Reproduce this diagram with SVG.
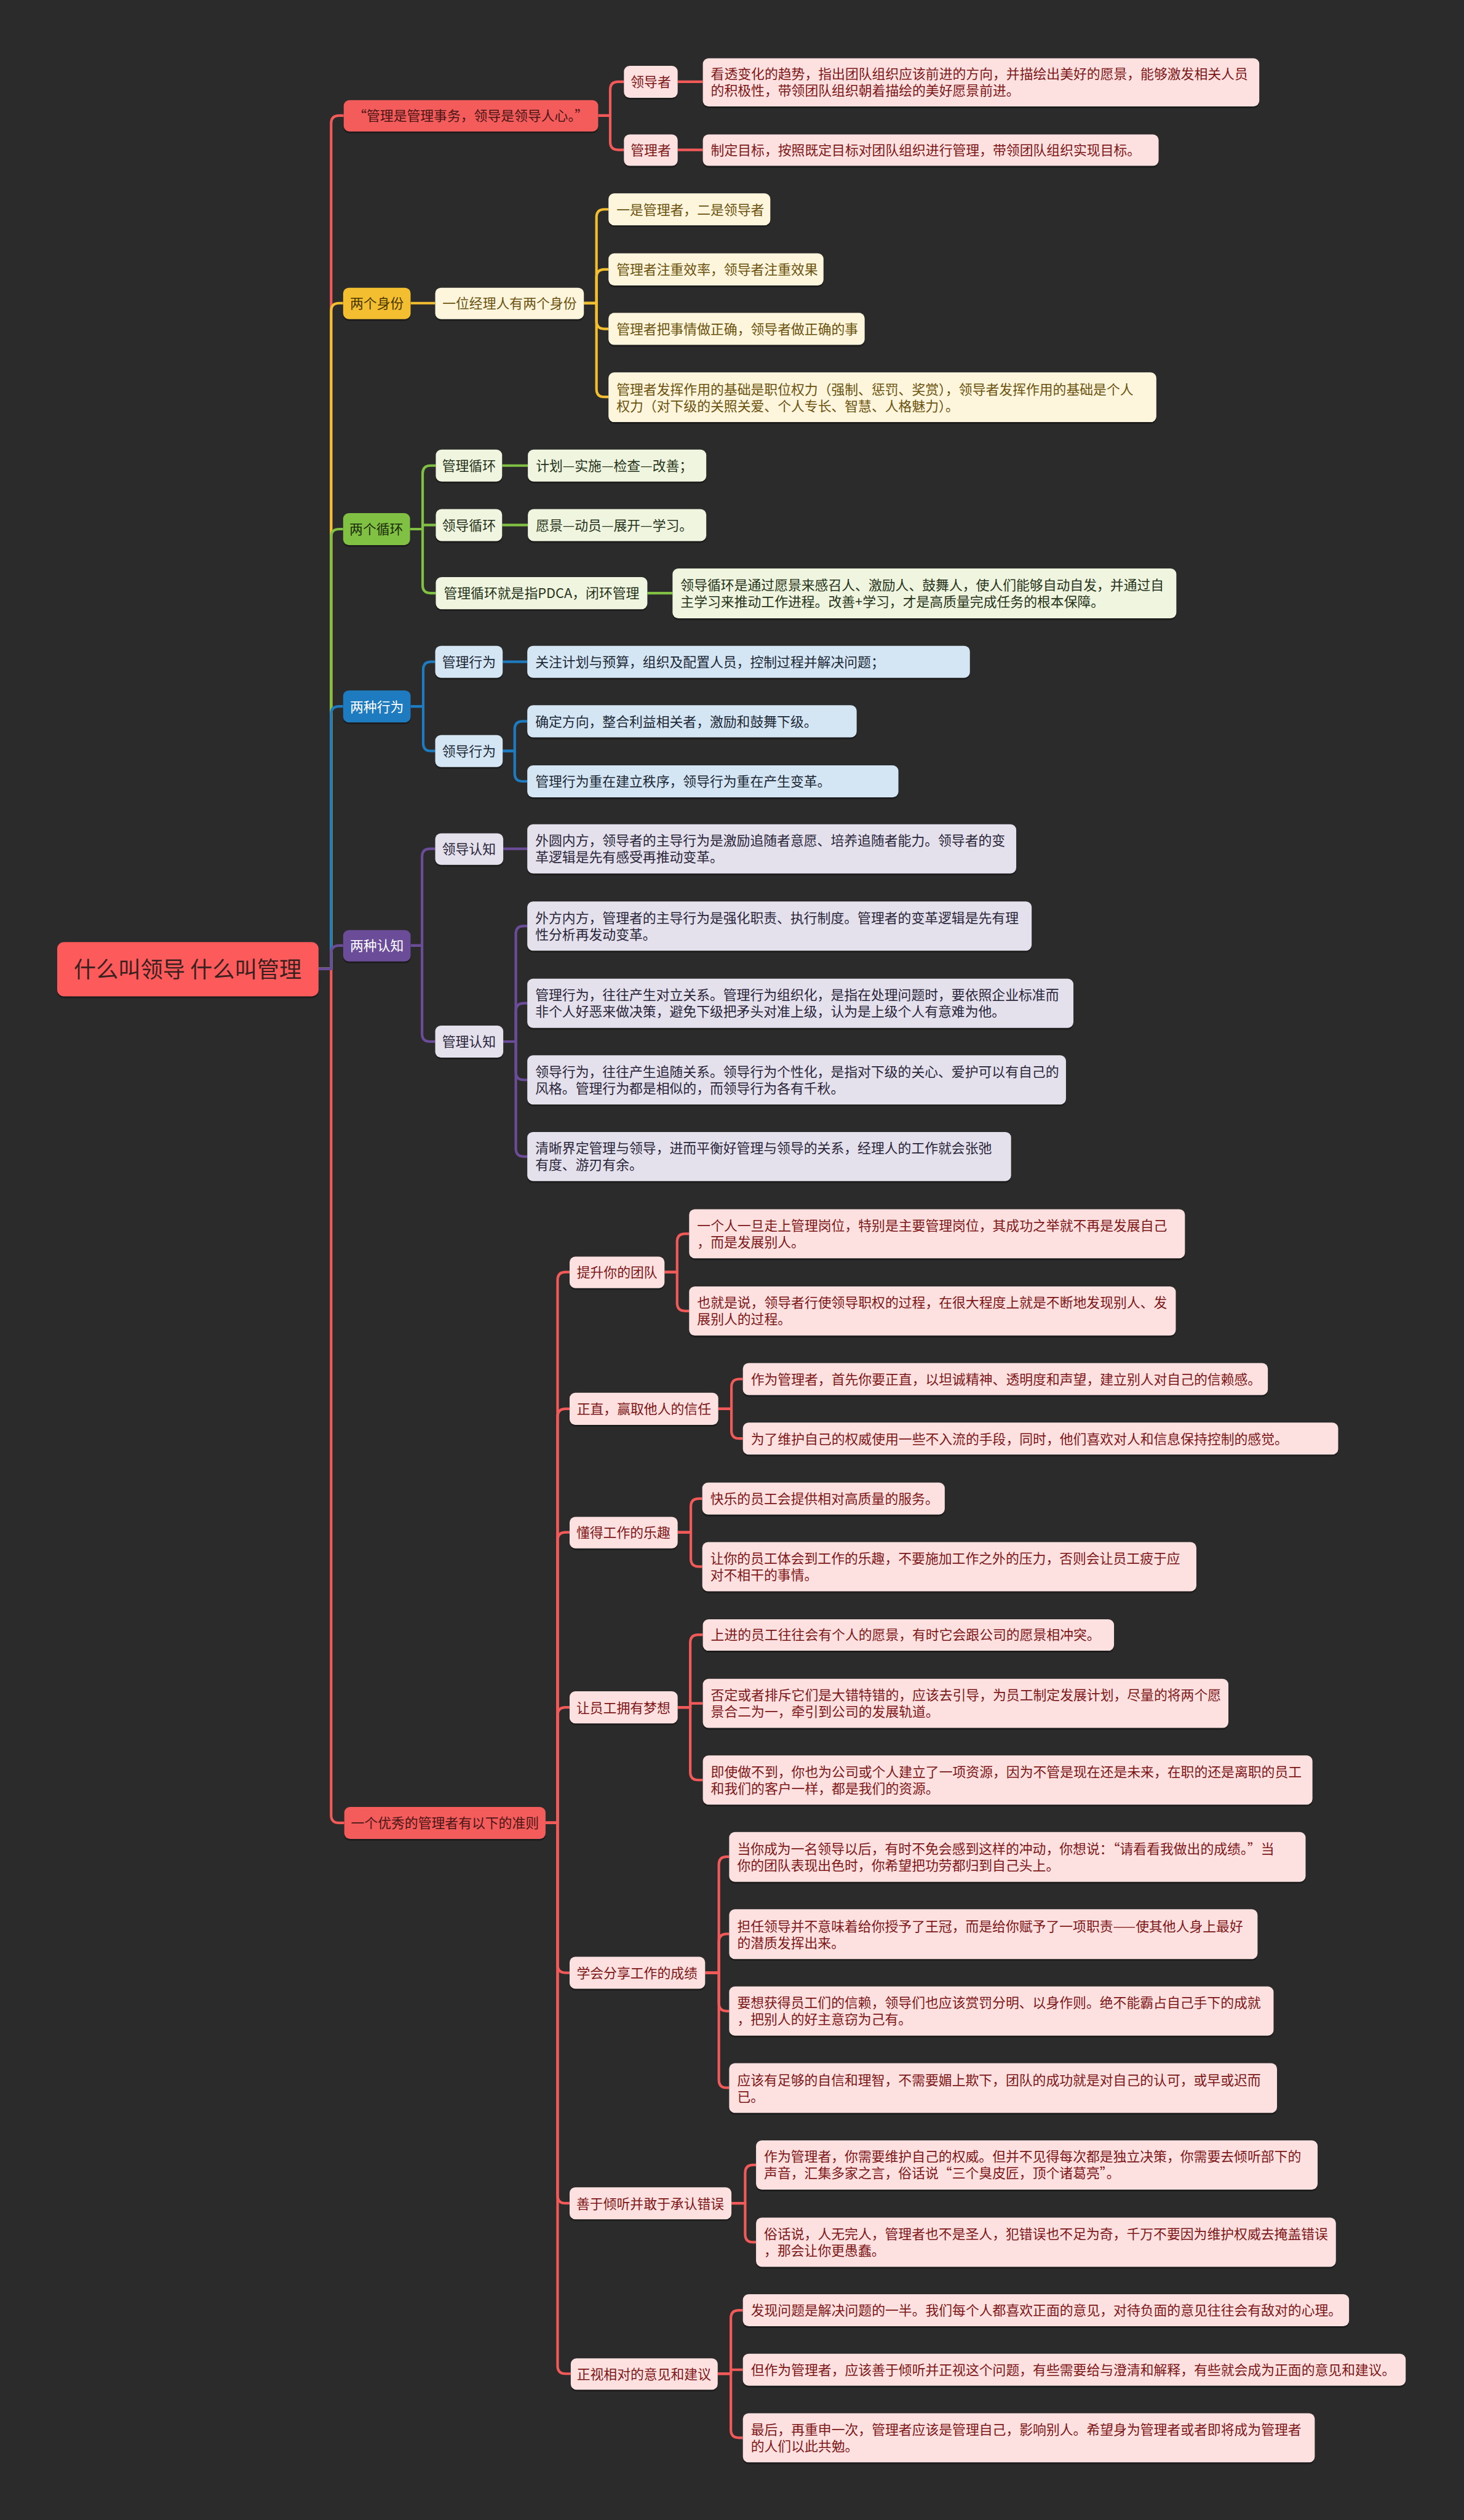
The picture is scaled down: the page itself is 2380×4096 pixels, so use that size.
<svg xmlns="http://www.w3.org/2000/svg" width="2380" height="4096" viewBox="0 0 2380 4096">
<style>
text{font-family:"Noto Sans CJK SC","Noto Sans",sans-serif;font-size:23.5px}
.m{text-anchor:middle}
.sh{fill:#121212;opacity:.6}
.c{fill:none;stroke-width:4.5;stroke-linejoin:round}
.cr{stroke:#f25a5a}.cy{stroke:#f3bf30}.cg{stroke:#80c043}.cb{stroke:#1f7bbf}.cp{stroke:#6b4c99}
.R{fill:#f45b5b}.RL{fill:#fde1e1}
.Y{fill:#f3bf30}.YL{fill:#fdf6dc}
.G{fill:#80c043}.GL{fill:#eff5de}
.B{fill:#1f7bbf}.BL{fill:#d4e6f3}
.P{fill:#6b4c99}.PL{fill:#e4e0ec}
.tR{fill:#4a1616}.tRL{fill:#7d1717}
.tY{fill:#4a3600}.tYL{fill:#6b520f}
.tG{fill:#1c2e0c}.tGL{fill:#26331a}
.tW{fill:#ffffff}.tBL{fill:#1c2836}.tPL{fill:#29263a}
</style>
<rect width="2380" height="4096" fill="#2b2b2b"/>
<g transform="scale(0.9297)">
<g id="connectors">
<path class="c cr" d="M557,1694 H579 V3173 Q579,3187 593,3187 H602"/>
<path class="c cr" d="M557,1694 H579 V216 Q579,202 593,202 H601"/>
<path class="c cy" d="M557,1694 H579 V544 Q579,530 593,530 H600"/>
<path class="c cg" d="M557,1694 H579 V939 Q579,925 593,925 H600"/>
<path class="c cb" d="M557,1694 H579 V1249 Q579,1235 593,1235 H600"/>
<path class="c cp" d="M557,1694 H579 V1667 Q579,1653 593,1653 H600"/>
<path class="c cr" d="M1046,202 H1067 V157 Q1067,143 1081,143 H1091"/>
<path class="c cr" d="M1046,202 H1067 V248 Q1067,262 1081,262 H1091"/>
<path class="c cr" d="M1185,143 H1229"/>
<path class="c cr" d="M1185,262 H1229"/>
<path class="c cy" d="M718,530 H761"/>
<path class="c cy" d="M1021,530 H1043 V380 Q1043,366 1057,366 H1064"/>
<path class="c cy" d="M1021,530 H1043 V485 Q1043,471 1057,471 H1064"/>
<path class="c cy" d="M1021,530 H1043 V561 Q1043,575 1057,575 H1064"/>
<path class="c cy" d="M1021,530 H1043 V680 Q1043,694 1057,694 H1064"/>
<path class="c cg" d="M717,925 H739 V828 Q739,814 753,814 H762"/>
<path class="c cg" d="M717,925 H739 V918 H762"/>
<path class="c cg" d="M717,925 H739 V1023 Q739,1037 753,1037 H762"/>
<path class="c cg" d="M878,814 H923"/>
<path class="c cg" d="M878,918 H923"/>
<path class="c cg" d="M1132,1037 H1176"/>
<path class="c cb" d="M718,1235 H740 V1171 Q740,1157 754,1157 H761"/>
<path class="c cb" d="M718,1235 H740 V1299 Q740,1313 754,1313 H761"/>
<path class="c cb" d="M879,1157 H922"/>
<path class="c cb" d="M879,1313 H900 V1275 Q900,1261 914,1261 H922"/>
<path class="c cb" d="M879,1313 H900 V1352 Q900,1366 914,1366 H922"/>
<path class="c cp" d="M718,1653 H738 V1498 Q738,1484 752,1484 H761"/>
<path class="c cp" d="M718,1653 H738 V1807 Q738,1821 752,1821 H761"/>
<path class="c cp" d="M880,1484 H922"/>
<path class="c cp" d="M880,1821 H902 V1633 Q902,1619 916,1619 H922"/>
<path class="c cp" d="M880,1821 H902 V1768 Q902,1754 916,1754 H922"/>
<path class="c cp" d="M880,1821 H902 V1874 Q902,1888 916,1888 H922"/>
<path class="c cp" d="M880,1821 H902 V2008 Q902,2022 916,2022 H922"/>
<path class="c cr" d="M954,3187 H975 V2238 Q975,2224 989,2224 H996"/>
<path class="c cr" d="M954,3187 H975 V2477 Q975,2463 989,2463 H996"/>
<path class="c cr" d="M954,3187 H975 V2693 Q975,2679 989,2679 H996"/>
<path class="c cr" d="M954,3187 H975 V2999 Q975,2985 989,2985 H996"/>
<path class="c cr" d="M954,3187 H975 V3435 Q975,3449 989,3449 H996"/>
<path class="c cr" d="M954,3187 H975 V3838 Q975,3852 989,3852 H996"/>
<path class="c cr" d="M954,3187 H975 V4136 Q975,4150 989,4150 H998"/>
<path class="c cr" d="M1162,2224 H1184 V2171 Q1184,2157 1198,2157 H1205"/>
<path class="c cr" d="M1162,2224 H1184 V2278 Q1184,2292 1198,2292 H1205"/>
<path class="c cr" d="M1256,2463 H1279 V2425 Q1279,2411 1293,2411 H1299"/>
<path class="c cr" d="M1256,2463 H1279 V2501 Q1279,2515 1293,2515 H1299"/>
<path class="c cr" d="M1185,2679 H1208 V2634 Q1208,2620 1222,2620 H1228"/>
<path class="c cr" d="M1185,2679 H1208 V2725 Q1208,2739 1222,2739 H1228"/>
<path class="c cr" d="M1185,2985 H1207 V2872 Q1207,2858 1221,2858 H1229"/>
<path class="c cr" d="M1185,2985 H1207 V2978 H1229"/>
<path class="c cr" d="M1185,2985 H1207 V3098 Q1207,3112 1221,3112 H1229"/>
<path class="c cr" d="M1233,3449 H1257 V3260 Q1257,3246 1271,3246 H1275"/>
<path class="c cr" d="M1233,3449 H1257 V3395 Q1257,3381 1271,3381 H1275"/>
<path class="c cr" d="M1233,3449 H1257 V3502 Q1257,3516 1271,3516 H1275"/>
<path class="c cr" d="M1233,3449 H1257 V3636 Q1257,3650 1271,3650 H1275"/>
<path class="c cr" d="M1279,3852 H1303 V3799 Q1303,3785 1317,3785 H1322"/>
<path class="c cr" d="M1279,3852 H1303 V3906 Q1303,3920 1317,3920 H1322"/>
<path class="c cr" d="M1255,4150 H1278 V4053 Q1278,4039 1292,4039 H1299"/>
<path class="c cr" d="M1255,4150 H1278 V4143 H1299"/>
<path class="c cr" d="M1255,4150 H1278 V4248 Q1278,4262 1292,4262 H1299"/>
</g>

<g id="root"><rect class="sh" x="100" y="1650" width="457" height="95" rx="12"/><rect x="100" y="1647" width="457" height="95" rx="12" fill="#fd5b5b"/><text class="m" x="328" y="1709" style="font-size:39px" fill="#3b2020">什么叫领导 什么叫管理</text></g>

<!-- Branch 1 -->
<g id="b1"><rect class="sh" x="601" y="178" width="445" height="55" rx="10"/><rect class="R" x="601" y="175" width="445" height="55" rx="10"/><text class="m tR" x="823" y="211">“管理是管理事务，领导是领导人心。”</text></g>
<g id="b1a"><rect class="sh" x="1091" y="118" width="94" height="56" rx="10"/><rect class="RL" x="1091" y="115" width="94" height="56" rx="10"/><text class="m tRL" x="1138" y="152">领导者</text></g>
<g id="b1a1"><rect class="sh" x="1229" y="105" width="973" height="84" rx="10"/><rect class="RL" x="1229" y="102" width="973" height="84" rx="10"/><text class="tRL" x="1243" y="138">看透变化的趋势，指出团队组织应该前进的方向，并描绘出美好的愿景，能够激发相关人员</text><text class="tRL" x="1243" y="167">的积极性，带领团队组织朝着描绘的美好愿景前进。</text></g>
<g id="b1b"><rect class="sh" x="1091" y="238" width="94" height="55" rx="10"/><rect class="RL" x="1091" y="235" width="94" height="55" rx="10"/><text class="m tRL" x="1138" y="271">管理者</text></g>
<g id="b1b1"><rect class="sh" x="1229" y="238" width="797" height="55" rx="10"/><rect class="RL" x="1229" y="235" width="797" height="55" rx="10"/><text class="tRL" x="1243" y="271">制定目标，按照既定目标对团队组织进行管理，带领团队组织实现目标。</text></g>

<!-- Branch 2 -->
<g id="b2"><rect class="sh" x="600" y="506" width="118" height="55" rx="10"/><rect class="Y" x="600" y="503" width="118" height="55" rx="10"/><text class="m tY" x="659" y="539">两个身份</text></g>
<g id="b2a"><rect class="sh" x="761" y="506" width="260" height="55" rx="10"/><rect class="YL" x="761" y="503" width="260" height="55" rx="10"/><text class="m tYL" x="891" y="539">一位经理人有两个身份</text></g>
<g id="b2a1"><rect class="sh" x="1064" y="341" width="283" height="56" rx="10"/><rect class="YL" x="1064" y="338" width="283" height="56" rx="10"/><text class="tYL" x="1078" y="375">一是管理者，二是领导者</text></g>
<g id="b2a2"><rect class="sh" x="1064" y="446" width="376" height="56" rx="10"/><rect class="YL" x="1064" y="443" width="376" height="56" rx="10"/><text class="tYL" x="1078" y="480">管理者注重效率，领导者注重效果</text></g>
<g id="b2a3"><rect class="sh" x="1064" y="550" width="448" height="56" rx="10"/><rect class="YL" x="1064" y="547" width="448" height="56" rx="10"/><text class="tYL" x="1078" y="584">管理者把事情做正确，领导者做正确的事</text></g>
<g id="b2a4"><rect class="sh" x="1064" y="654" width="958" height="87" rx="10"/><rect class="YL" x="1064" y="651" width="958" height="87" rx="10"/><text class="tYL" x="1078" y="689">管理者发挥作用的基础是职位权力（强制、惩罚、奖赏），领导者发挥作用的基础是个人</text><text class="tYL" x="1078" y="718">权力（对下级的关照关爱、个人专长、智慧、人格魅力）。</text></g>

<!-- Branch 3 -->
<g id="b3"><rect class="sh" x="600" y="900" width="117" height="56" rx="10"/><rect class="G" x="600" y="897" width="117" height="56" rx="10"/><text class="m tG" x="658" y="934">两个循环</text></g>
<g id="b3a"><rect class="sh" x="762" y="789" width="116" height="56" rx="10"/><rect class="GL" x="762" y="786" width="116" height="56" rx="10"/><text class="m tGL" x="820" y="823">管理循环</text></g>
<g id="b3a1"><rect class="sh" x="923" y="789" width="312" height="56" rx="10"/><rect class="GL" x="923" y="786" width="312" height="56" rx="10"/><text class="tGL" x="937" y="823">计划—实施—检查—改善；</text></g>
<g id="b3b"><rect class="sh" x="762" y="893" width="116" height="56" rx="10"/><rect class="GL" x="762" y="890" width="116" height="56" rx="10"/><text class="m tGL" x="820" y="927">领导循环</text></g>
<g id="b3b1"><rect class="sh" x="923" y="893" width="312" height="56" rx="10"/><rect class="GL" x="923" y="890" width="312" height="56" rx="10"/><text class="tGL" x="937" y="927">愿景—动员—展开—学习。</text></g>
<g id="b3c"><rect class="sh" x="762" y="1012" width="370" height="56" rx="10"/><rect class="GL" x="762" y="1009" width="370" height="56" rx="10"/><text class="m tGL" x="947" y="1046">管理循环就是指PDCA，闭环管理</text></g>
<g id="b3c1"><rect class="sh" x="1176" y="997" width="881" height="87" rx="10"/><rect class="GL" x="1176" y="994" width="881" height="87" rx="10"/><text class="tGL" x="1190" y="1032">领导循环是通过愿景来感召人、激励人、鼓舞人，使人们能够自动自发，并通过自</text><text class="tGL" x="1190" y="1061">主学习来推动工作进程。改善+学习，才是高质量完成任务的根本保障。</text></g>

<!-- Branch 4 -->
<g id="b4"><rect class="sh" x="600" y="1210" width="118" height="56" rx="10"/><rect class="B" x="600" y="1207" width="118" height="56" rx="10"/><text class="m tW" x="659" y="1244">两种行为</text></g>
<g id="b4a"><rect class="sh" x="761" y="1132" width="118" height="56" rx="10"/><rect class="BL" x="761" y="1129" width="118" height="56" rx="10"/><text class="m tBL" x="820" y="1166">管理行为</text></g>
<g id="b4a1"><rect class="sh" x="922" y="1132" width="774" height="56" rx="10"/><rect class="BL" x="922" y="1129" width="774" height="56" rx="10"/><text class="tBL" x="936" y="1166">关注计划与预算，组织及配置人员，控制过程并解决问题；</text></g>
<g id="b4b"><rect class="sh" x="761" y="1288" width="118" height="56" rx="10"/><rect class="BL" x="761" y="1285" width="118" height="56" rx="10"/><text class="m tBL" x="820" y="1322">领导行为</text></g>
<g id="b4b1"><rect class="sh" x="922" y="1236" width="576" height="56" rx="10"/><rect class="BL" x="922" y="1233" width="576" height="56" rx="10"/><text class="tBL" x="936" y="1270">确定方向，整合利益相关者，激励和鼓舞下级。</text></g>
<g id="b4b2"><rect class="sh" x="922" y="1341" width="649" height="56" rx="10"/><rect class="BL" x="922" y="1338" width="649" height="56" rx="10"/><text class="tBL" x="936" y="1375">管理行为重在建立秩序，领导行为重在产生变革。</text></g>

<!-- Branch 5 -->
<g id="b5"><rect class="sh" x="600" y="1629" width="118" height="55" rx="10"/><rect class="P" x="600" y="1626" width="118" height="55" rx="10"/><text class="m tW" x="659" y="1662">两种认知</text></g>
<g id="b5a"><rect class="sh" x="761" y="1460" width="119" height="55" rx="10"/><rect class="PL" x="761" y="1457" width="119" height="55" rx="10"/><text class="m tPL" x="820" y="1493">领导认知</text></g>
<g id="b5a1"><rect class="sh" x="922" y="1444" width="855" height="86" rx="10"/><rect class="PL" x="922" y="1441" width="855" height="86" rx="10"/><text class="tPL" x="936" y="1478">外圆内方，领导者的主导行为是激励追随者意愿、培养追随者能力。领导者的变</text><text class="tPL" x="936" y="1507">革逻辑是先有感受再推动变革。</text></g>
<g id="b5b"><rect class="sh" x="761" y="1796" width="119" height="56" rx="10"/><rect class="PL" x="761" y="1793" width="119" height="56" rx="10"/><text class="m tPL" x="820" y="1830">管理认知</text></g>
<g id="b5b1"><rect class="sh" x="922" y="1579" width="882" height="86" rx="10"/><rect class="PL" x="922" y="1576" width="882" height="86" rx="10"/><text class="tPL" x="936" y="1613">外方内方，管理者的主导行为是强化职责、执行制度。管理者的变革逻辑是先有理</text><text class="tPL" x="936" y="1642">性分析再发动变革。</text></g>
<g id="b5b2"><rect class="sh" x="922" y="1714" width="955" height="86" rx="10"/><rect class="PL" x="922" y="1711" width="955" height="86" rx="10"/><text class="tPL" x="936" y="1748">管理行为，往往产生对立关系。管理行为组织化，是指在处理问题时，要依照企业标准而</text><text class="tPL" x="936" y="1777">非个人好恶来做决策，避免下级把矛头对准上级，认为是上级个人有意难为他。</text></g>
<g id="b5b3"><rect class="sh" x="922" y="1848" width="942" height="86" rx="10"/><rect class="PL" x="922" y="1845" width="942" height="86" rx="10"/><text class="tPL" x="936" y="1882">领导行为，往往产生追随关系。领导行为个性化，是指对下级的关心、爱护可以有自己的</text><text class="tPL" x="936" y="1911">风格。管理行为都是相似的，而领导行为各有千秋。</text></g>
<g id="b5b4"><rect class="sh" x="922" y="1982" width="846" height="86" rx="10"/><rect class="PL" x="922" y="1979" width="846" height="86" rx="10"/><text class="tPL" x="936" y="2016">清晰界定管理与领导，进而平衡好管理与领导的关系，经理人的工作就会张弛</text><text class="tPL" x="936" y="2045">有度、游刃有余。</text></g>

<!-- Branch 6 -->
<g id="b6"><rect class="sh" x="602" y="3162" width="352" height="56" rx="10"/><rect class="R" x="602" y="3159" width="352" height="56" rx="10"/><text class="m tR" x="778" y="3196">一个优秀的管理者有以下的准则</text></g>

<g id="b6a"><rect class="sh" x="996" y="2200" width="166" height="55" rx="10"/><rect class="RL" x="996" y="2197" width="166" height="55" rx="10"/><text class="m tRL" x="1079" y="2233">提升你的团队</text></g>
<g id="b6a1"><rect class="sh" x="1205" y="2117" width="867" height="86" rx="10"/><rect class="RL" x="1205" y="2114" width="867" height="86" rx="10"/><text class="tRL" x="1219" y="2151">一个人一旦走上管理岗位，特别是主要管理岗位，其成功之举就不再是发展自己</text><text class="tRL" x="1219" y="2180">，而是发展别人。</text></g>
<g id="b6a2"><rect class="sh" x="1205" y="2252" width="851" height="86" rx="10"/><rect class="RL" x="1205" y="2249" width="851" height="86" rx="10"/><text class="tRL" x="1219" y="2286">也就是说，领导者行使领导职权的过程，在很大程度上就是不断地发现别人、发</text><text class="tRL" x="1219" y="2315">展别人的过程。</text></g>

<g id="b6b"><rect class="sh" x="996" y="2438" width="260" height="56" rx="10"/><rect class="RL" x="996" y="2435" width="260" height="56" rx="10"/><text class="m tRL" x="1126" y="2472">正直，赢取他人的信任</text></g>
<g id="b6b1"><rect class="sh" x="1299" y="2386" width="918" height="56" rx="10"/><rect class="RL" x="1299" y="2383" width="918" height="56" rx="10"/><text class="tRL" x="1313" y="2420">作为管理者，首先你要正直，以坦诚精神、透明度和声望，建立别人对自己的信赖感。</text></g>
<g id="b6b2"><rect class="sh" x="1299" y="2490" width="1041" height="56" rx="10"/><rect class="RL" x="1299" y="2487" width="1041" height="56" rx="10"/><text class="tRL" x="1313" y="2524">为了维护自己的权威使用一些不入流的手段，同时，他们喜欢对人和信息保持控制的感觉。</text></g>

<g id="b6c"><rect class="sh" x="996" y="2655" width="189" height="55" rx="10"/><rect class="RL" x="996" y="2652" width="189" height="55" rx="10"/><text class="m tRL" x="1090" y="2688">懂得工作的乐趣</text></g>
<g id="b6c1"><rect class="sh" x="1228" y="2595" width="424" height="56" rx="10"/><rect class="RL" x="1228" y="2592" width="424" height="56" rx="10"/><text class="tRL" x="1242" y="2629">快乐的员工会提供相对高质量的服务。</text></g>
<g id="b6c2"><rect class="sh" x="1228" y="2699" width="864" height="86" rx="10"/><rect class="RL" x="1228" y="2696" width="864" height="86" rx="10"/><text class="tRL" x="1242" y="2733">让你的员工体会到工作的乐趣，不要施加工作之外的压力，否则会让员工疲于应</text><text class="tRL" x="1242" y="2762">对不相干的事情。</text></g>

<g id="b6d"><rect class="sh" x="996" y="2960" width="189" height="56" rx="10"/><rect class="RL" x="996" y="2957" width="189" height="56" rx="10"/><text class="m tRL" x="1090" y="2994">让员工拥有梦想</text></g>
<g id="b6d1"><rect class="sh" x="1229" y="2834" width="719" height="55" rx="10"/><rect class="RL" x="1229" y="2831" width="719" height="55" rx="10"/><text class="tRL" x="1243" y="2867">上进的员工往往会有个人的愿景，有时它会跟公司的愿景相冲突。</text></g>
<g id="b6d2"><rect class="sh" x="1229" y="2938" width="919" height="86" rx="10"/><rect class="RL" x="1229" y="2935" width="919" height="86" rx="10"/><text class="tRL" x="1243" y="2972">否定或者排斥它们是大错特错的，应该去引导，为员工制定发展计划，尽量的将两个愿</text><text class="tRL" x="1243" y="3001">景合二为一，牵引到公司的发展轨道。</text></g>
<g id="b6d3"><rect class="sh" x="1229" y="3072" width="1066" height="86" rx="10"/><rect class="RL" x="1229" y="3069" width="1066" height="86" rx="10"/><text class="tRL" x="1243" y="3106">即使做不到，你也为公司或个人建立了一项资源，因为不管是现在还是未来，在职的还是离职的员工</text><text class="tRL" x="1243" y="3135">和我们的客户一样，都是我们的资源。</text></g>

<g id="b6e"><rect class="sh" x="996" y="3424" width="237" height="56" rx="10"/><rect class="RL" x="996" y="3421" width="237" height="56" rx="10"/><text class="m tRL" x="1114" y="3458">学会分享工作的成绩</text></g>
<g id="b6e1"><rect class="sh" x="1275" y="3206" width="1008" height="87" rx="10"/><rect class="RL" x="1275" y="3203" width="1008" height="87" rx="10"/><text class="tRL" x="1289" y="3241">当你成为一名领导以后，有时不免会感到这样的冲动，你想说：“请看看我做出的成绩。”当</text><text class="tRL" x="1289" y="3270">你的团队表现出色时，你希望把功劳都归到自己头上。</text></g>
<g id="b6e2"><rect class="sh" x="1275" y="3341" width="924" height="87" rx="10"/><rect class="RL" x="1275" y="3338" width="924" height="87" rx="10"/><text class="tRL" x="1289" y="3376">担任领导并不意味着给你授予了王冠，而是给你赋予了一项职责——使其他人身上最好</text><text class="tRL" x="1289" y="3405">的潜质发挥出来。</text></g>
<g id="b6e3"><rect class="sh" x="1275" y="3476" width="952" height="86" rx="10"/><rect class="RL" x="1275" y="3473" width="952" height="86" rx="10"/><text class="tRL" x="1289" y="3510">要想获得员工们的信赖，领导们也应该赏罚分明、以身作则。绝不能霸占自己手下的成就</text><text class="tRL" x="1289" y="3539">，把别人的好主意窃为己有。</text></g>
<g id="b6e4"><rect class="sh" x="1275" y="3610" width="958" height="87" rx="10"/><rect class="RL" x="1275" y="3607" width="958" height="87" rx="10"/><text class="tRL" x="1289" y="3645">应该有足够的自信和理智，不需要媚上欺下，团队的成功就是对自己的认可，或早或迟而</text><text class="tRL" x="1289" y="3674">已。</text></g>

<g id="b6f"><rect class="sh" x="996" y="3827" width="283" height="56" rx="10"/><rect class="RL" x="996" y="3824" width="283" height="56" rx="10"/><text class="m tRL" x="1137" y="3861">善于倾听并敢于承认错误</text></g>
<g id="b6f1"><rect class="sh" x="1322" y="3745" width="982" height="86" rx="10"/><rect class="RL" x="1322" y="3742" width="982" height="86" rx="10"/><text class="tRL" x="1336" y="3779">作为管理者，你需要维护自己的权威。但并不见得每次都是独立决策，你需要去倾听部下的</text><text class="tRL" x="1336" y="3808">声音，汇集多家之言，俗话说“三个臭皮匠，顶个诸葛亮”。</text></g>
<g id="b6f2"><rect class="sh" x="1322" y="3880" width="1014" height="86" rx="10"/><rect class="RL" x="1322" y="3877" width="1014" height="86" rx="10"/><text class="tRL" x="1336" y="3914">俗话说，人无完人，管理者也不是圣人，犯错误也不足为奇，千万不要因为维护权威去掩盖错误</text><text class="tRL" x="1336" y="3943">，那会让你更愚蠢。</text></g>

<g id="b6g"><rect class="sh" x="998" y="4126" width="257" height="55" rx="10"/><rect class="RL" x="998" y="4123" width="257" height="55" rx="10"/><text class="m tRL" x="1126" y="4159">正视相对的意见和建议</text></g>
<g id="b6g1"><rect class="sh" x="1299" y="4014" width="1060" height="56" rx="10"/><rect class="RL" x="1299" y="4011" width="1060" height="56" rx="10"/><text class="tRL" x="1313" y="4048">发现问题是解决问题的一半。我们每个人都喜欢正面的意见，对待负面的意见往往会有敌对的心理。</text></g>
<g id="b6g2"><rect class="sh" x="1299" y="4118" width="1159" height="56" rx="10"/><rect class="RL" x="1299" y="4115" width="1159" height="56" rx="10"/><text class="tRL" x="1313" y="4152">但作为管理者，应该善于倾听并正视这个问题，有些需要给与澄清和解释，有些就会成为正面的意见和建议。</text></g>
<g id="b6g3"><rect class="sh" x="1299" y="4222" width="1000" height="86" rx="10"/><rect class="RL" x="1299" y="4219" width="1000" height="86" rx="10"/><text class="tRL" x="1313" y="4256">最后，再重申一次，管理者应该是管理自己，影响别人。希望身为管理者或者即将成为管理者</text><text class="tRL" x="1313" y="4285">的人们以此共勉。</text></g>
</g>
</svg>
